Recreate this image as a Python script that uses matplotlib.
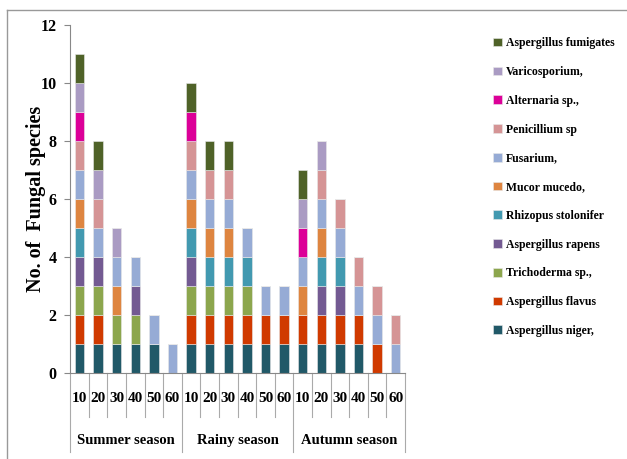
#!/usr/bin/env python3
"""Stacked bar chart of fungal species by soil depth and season."""

import matplotlib

matplotlib.use("Agg")
import matplotlib.pyplot as plt
import numpy as np

seasons = ["Summer season", "Rainy season", "Autumn season"]
depths = ["10", "20", "30", "40", "50", "60"]

# bottom to top stacking order, 18 bars (summer 10..60, rainy 10..60, autumn 10..60)
species = [
    "Aspergillus niger,",
    "Aspergillus flavus",
    "Trichoderma sp.,",
    "Aspergillus rapens",
    "Rhizopus stolonifer",
    "Mucor mucedo,",
    "Fusarium,",
    "Penicillium sp",
    "Alternaria sp.,",
    "Varicosporium,",
    "Aspergillus fumigates",
]
niger = [1, 1, 1, 1, 1, 0, 1, 1, 1, 1, 1, 1, 1, 1, 1, 1, 0, 0]
flavus = [1, 1, 0, 0, 0, 0, 1, 1, 1, 1, 1, 1, 1, 1, 1, 1, 1, 0]
trichoderma = [1, 1, 1, 1, 0, 0, 1, 1, 1, 1, 0, 0, 0, 0, 0, 0, 0, 0]
rapens = [1, 1, 0, 1, 0, 0, 1, 0, 0, 0, 0, 0, 0, 1, 1, 0, 0, 0]
rhizopus = [1, 0, 0, 0, 0, 0, 1, 1, 1, 1, 0, 0, 0, 1, 1, 0, 0, 0]
mucor = [1, 0, 1, 0, 0, 0, 1, 1, 1, 0, 0, 0, 1, 1, 0, 0, 0, 0]
fusarium = [1, 1, 1, 1, 1, 1, 1, 1, 1, 1, 1, 1, 1, 1, 1, 1, 1, 1]
penicillium = [1, 1, 0, 0, 0, 0, 1, 1, 1, 0, 0, 0, 0, 1, 1, 1, 1, 1]
alternaria = [1, 0, 0, 0, 0, 0, 1, 0, 0, 0, 0, 0, 1, 0, 0, 0, 0, 0]
varicosporium = [1, 1, 1, 0, 0, 0, 0, 0, 0, 0, 0, 0, 1, 1, 0, 0, 0, 0]
fumigates = [1, 1, 0, 0, 0, 0, 1, 1, 1, 0, 0, 0, 1, 0, 0, 0, 0, 0]

series = [niger, flavus, trichoderma, rapens, rhizopus, mucor,
          fusarium, penicillium, alternaria, varicosporium, fumigates]
colors = ["#215968", "#D03A00", "#8CA64D", "#735A92", "#4299B0", "#DE8540",
          "#96ABD5", "#D59495", "#DC0098", "#AA9BC3", "#4F6228"]

plt.rcParams.update({"font.family": "Liberation Serif", "font.weight": "bold"})

fig = plt.figure(figsize=(6.27, 4.59), dpi=100)
ax = fig.add_axes([0.112, 0.187, 0.534, 0.7585])

n = len(niger)
x = np.arange(n)
bottom = np.zeros(n)
handles = []
for name, vals, col in zip(species, series, colors):
    vals = np.array(vals, dtype=float)
    b = ax.bar(x, vals, bottom=bottom, width=0.5, color=col,
               edgecolor="#E8E8E8", linewidth=0.4, label=name)
    handles.append(b)
    bottom += vals

ax.set_xlim(-0.5, n - 0.5)
ax.set_ylim(0, 12)
ax.set_yticks(range(0, 13, 2))
ax.tick_params(axis="y", labelsize=11.5, length=4, color="#888888", pad=6)
ax.set_xticks([])
for s in ["top", "right"]:
    ax.spines[s].set_visible(False)
for s in ["left", "bottom"]:
    ax.spines[s].set_color("#888888")

ax.set_ylabel("No. of  Fungal species", fontsize=14.5, fontweight="bold")
ax.yaxis.set_label_coords(-0.072, 0.5)

# hierarchical category axis
trans = ax.get_xaxis_transform()
for i in range(n + 1):
    depth = -0.227 if i % 6 == 0 else -0.126
    ax.plot([i - 0.5, i - 0.5], [0, depth], color="#AAAAAA", lw=0.8,
            transform=trans, clip_on=False)
for i in range(n):
    ax.text(i, -0.072, depths[i % 6], transform=trans, ha="center",
            va="center", fontsize=11)
for k, season in enumerate(seasons):
    ax.text(6 * k + 2.5, -0.192, season, transform=trans, ha="center",
            va="center", fontsize=10.5)

leg = fig.legend(handles[::-1], species[::-1], loc="upper left",
                 bbox_to_anchor=(0.77, 0.942), frameon=False,
                 prop={"family": "Liberation Serif", "weight": "bold", "size": 8.5},
                 handlelength=0.75, handleheight=0.75, handletextpad=0.3,
                 labelspacing=1.42)

# partial frame (top and left) as in the source image
fig.add_artist(plt.Line2D([0.011, 1.0], [0.978, 0.978], color="#999999", lw=1.0))
fig.add_artist(plt.Line2D([0.011, 0.011], [0.0, 0.978], color="#999999", lw=1.0))

fig.savefig("out.png", dpi=100)
